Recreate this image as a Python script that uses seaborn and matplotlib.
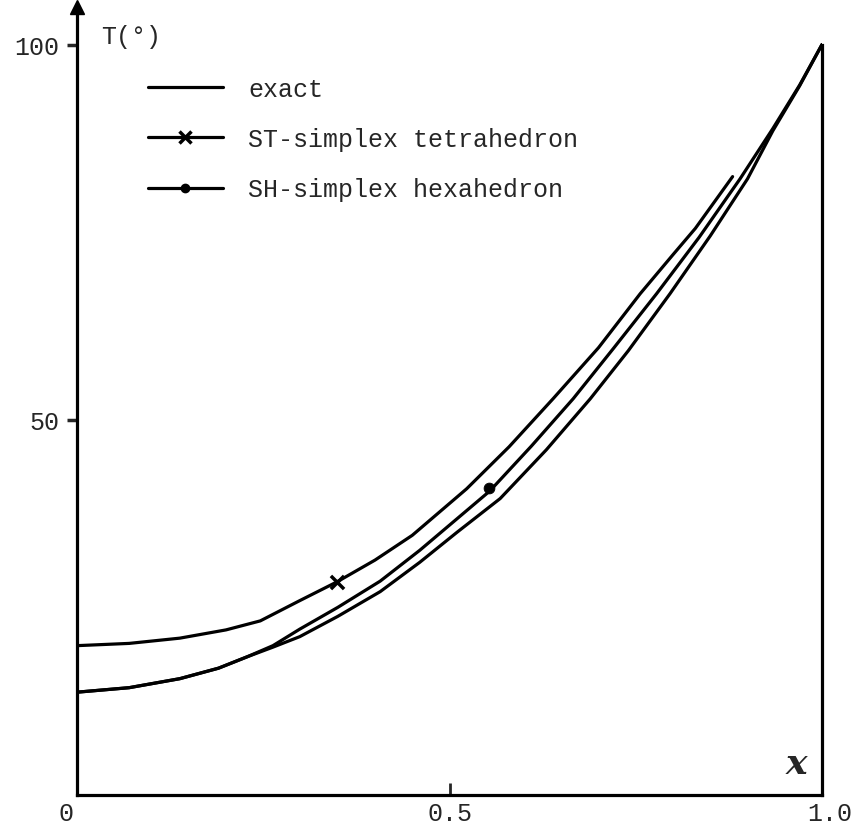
import matplotlib
matplotlib.use("Agg")
import matplotlib.pyplot as plt
import matplotlib.transforms as mtransforms
from matplotlib.lines import Line2D
import seaborn as sns
import pandas as pd

# ---- data ----
exact_x = [0.0, 0.07, 0.138, 0.19, 0.228, 0.263, 0.299, 0.35, 0.407, 0.46, 0.51,
           0.568, 0.63, 0.689, 0.74, 0.796, 0.85, 0.90, 0.934, 0.97, 1.0]
exact_t = [13.7, 14.3, 15.5, 16.9, 18.4, 19.7, 21.1, 23.8, 27.1, 31.0, 35.0,
           39.5, 46.0, 52.8, 59.2, 66.8, 74.5, 82.1, 88.5, 94.5, 100.0]

st_x = [0.0, 0.07, 0.138, 0.2, 0.246, 0.299, 0.349, 0.40, 0.45, 0.523, 0.58,
        0.639, 0.70, 0.756, 0.80, 0.83, 0.88]
st_t = [19.9, 20.2, 20.9, 22.0, 23.2, 25.9, 28.4, 31.3, 34.6, 40.8, 46.4,
        52.8, 59.6, 66.8, 72.0, 75.5, 82.4]

sh_x = [0.0, 0.07, 0.138, 0.19, 0.228, 0.263, 0.299, 0.35, 0.407, 0.46, 0.51,
        0.554, 0.61, 0.666, 0.72, 0.778, 0.835, 0.89, 0.934, 0.97, 1.0]
sh_t = [13.7, 14.3, 15.5, 16.9, 18.4, 19.9, 22.1, 25.0, 28.5, 32.6, 36.8,
        40.5, 46.5, 52.8, 59.5, 66.8, 74.3, 82.1, 88.8, 94.6, 100.0]

st_mark_x = [0.349]
st_mark_t = [28.4]
sh_mark_x = [0.553]
sh_mark_t = [40.9]

series_labels = ["exact", "ST-simplex tetrahedron", "SH-simplex hexahedron"]
yticks = [50, 100]
ytick_labels = ["50", "100"]
xticks = [0.0, 0.5, 1.0]
xtick_labels = ["0", "0.5", "1.0"]

sns.set_style("white")
plt.rcParams["font.family"] = ["Liberation Mono", "DejaVu Sans Mono"]

fig = plt.figure(figsize=(8.56, 8.28), dpi=100)
ax = fig.add_axes([77 / 856, 1 - 796 / 828, (822 - 77) / 856, (796 - 8) / 828])

lw = 2.3
df_exact = pd.DataFrame({"x": exact_x, "T": exact_t})
df_st = pd.DataFrame({"x": st_x, "T": st_t})
df_sh = pd.DataFrame({"x": sh_x, "T": sh_t})
for d in (df_exact, df_st, df_sh):
    sns.lineplot(data=d, x="x", y="T", color="black", lw=lw, ax=ax,
                 estimator=None, solid_joinstyle="round", solid_capstyle="round")
sns.scatterplot(x=st_mark_x, y=st_mark_t, marker="x", s=90, color="black",
                linewidth=2.5, ax=ax)
sns.scatterplot(x=sh_mark_x, y=sh_mark_t, marker="o", s=60, color="black",
                edgecolor="black", ax=ax)

ax.set_xlim(0, 1.0)
ax.set_ylim(0, 105)
ax.set_xlabel("")
ax.set_ylabel("")

ax.spines["top"].set_visible(False)
for s in ["left", "bottom", "right"]:
    ax.spines[s].set_color("black")
    ax.spines[s].set_linewidth(2.3)
ax.spines["right"].set_bounds(0, 100)

# arrow on the y axis
ax.plot([0], [1.0], marker="^", color="black", markersize=10,
        transform=ax.get_xaxis_transform(), clip_on=False)

ax.set_yticks(yticks)
ax.set_yticklabels(ytick_labels, fontsize=18)
ax.set_xticks(xticks)
ax.set_xticklabels(xtick_labels, fontsize=18)
ax.tick_params(axis="y", direction="out", length=7, width=2.5, pad=6, left=True)
ax.tick_params(axis="x", direction="in", length=9, width=2, pad=4, bottom=True)

offs = [-11, 0, 8]
for lab, o in zip(ax.get_xticklabels(), offs):
    lab.set_transform(lab.get_transform() +
                      mtransforms.ScaledTranslation(o / 100, 0, fig.dpi_scale_trans))

ax.text(0.032, 101.2, "T(°)", fontsize=18, ha="left", va="center")
ax.text(0.965, 2.0, "x", fontsize=26, fontweight="bold", family="DejaVu Serif",
        ha="center", va="bottom", style="italic")

handles = [
    Line2D([], [], color="black", lw=lw),
    Line2D([], [], color="black", lw=lw, marker="x", markersize=9, markeredgewidth=2.5),
    Line2D([], [], color="black", lw=lw, marker="o", markersize=6),
]
ax.legend(handles, series_labels, loc="upper left", bbox_to_anchor=(0.065, 0.94),
          frameon=False, fontsize=18, handlelength=3.0, handletextpad=1.0,
          labelspacing=1.05)

fig.savefig("out.png", dpi=100)
